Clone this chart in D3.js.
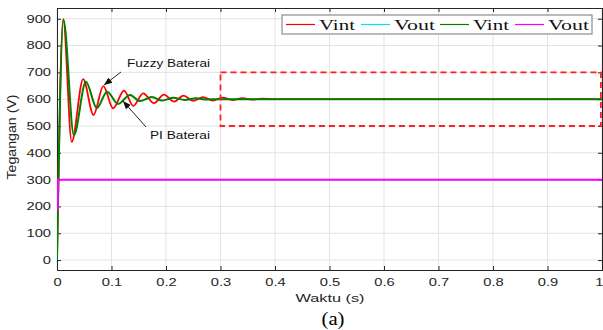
<!DOCTYPE html>
<html><head><meta charset="utf-8">
<script src="https://cdn.jsdelivr.net/npm/d3@7"></script>
<style>body{margin:0;background:#fff;}svg{display:block;}</style>
</head><body>
<script>
// ---- data ----
const xTicks = [0,0.1,0.2,0.3,0.4,0.5,0.6,0.7,0.8,0.9,1];
const xTickLabels = ["0","0.1","0.2","0.3","0.4","0.5","0.6","0.7","0.8","0.9","1"];
const yTicks = [0,100,200,300,400,500,600,700,800,900];
const legendLabels = ["Vint","Vout","Vint","Vout"];
const seriesColors = ["#ff0000","#00e5e5","#008000","#ff00ff"];

// Fuzzy Vint (red)
const fuzzyVintT = [0,0.0114,0.027,0.048,0.067,0.085,0.103,0.123,0.140,0.158,0.178,0.196,0.215,0.232,0.250,0.268,0.286,0.304,0.322,0.340,0.358,0.376,0.40,1.0];
const fuzzyVintV = [0,898,441,675,541,649,566,632,575,622,585,617,591,613,594,608,595,606,597,604,598,602,600,600];
// Fuzzy Vout (cyan)
const fuzzyVoutT = [0,0.001,0.002,0.004,1.0];
const fuzzyVoutV = [300,240,300,300,300];
// PI Vint (green)
const piVintT = [0,0.0118,0.031,0.053,0.073,0.092,0.112,0.134,0.152,0.174,0.193,0.214,0.234,0.255,0.275,0.30,1.0];
const piVintV = [0,896,466,665,567,628,582,616,593,608,595,605,597,603,599,600,600];
// PI Vout (magenta)
const piVoutT = [0,0.001,0.002,0.003,1.0];
const piVoutV = [300,187,300,300,300];

// zoom box (dashed) and annotations
const boxX = [0.3,0.998];
const boxY = [500,700];
const annotations = [
  {text:"Fuzzy Baterai", tx:127, ty:67, len:83, from:[121,72], to:[104,85]},
  {text:"PI Baterai", tx:150, ty:139, len:60, from:[146,127], to:[123,101]}
];

const W=603,H=330;
const svg=d3.select("body").append("svg").attr("width",W).attr("height",H);
const L=57,R=602,T=8,B=270;
const x=d3.scaleLinear().domain([0,1]).range([L,R]);
const y=d3.scaleLinear().domain([-37,940]).range([B,T]);
const axisCol="#262626";
const SX=1.4; // horizontal stretch of the reference's text

function stretch(sel,k){
  sel.each(function(){
    const w=this.getComputedTextLength();
    if(w>0) d3.select(this).attr("textLength",w*k).attr("lengthAdjust","spacingAndGlyphs");
  });
}

// grid
const g=svg.append("g");
g.selectAll(".gx").data(xTicks).enter().append("line")
 .attr("x1",d=>x(d)).attr("x2",d=>x(d)).attr("y1",T).attr("y2",B)
 .attr("stroke","#e3e3e3").attr("stroke-width",1);
g.selectAll(".gy").data(yTicks).enter().append("line")
 .attr("x1",L).attr("x2",R).attr("y1",d=>y(d)).attr("y2",d=>y(d))
 .attr("stroke","#e3e3e3").attr("stroke-width",1);

// axes
const fontAx="'Liberation Sans', Arial, sans-serif";
const xa=svg.append("g").attr("transform",`translate(0,${B})`)
 .call(d3.axisBottom(x).tickValues(xTicks).tickFormat((d,i)=>xTickLabels[i]).tickSize(-4).tickPadding(9));
const xt=svg.append("g").attr("transform",`translate(0,${T})`)
 .call(d3.axisTop(x).tickValues(xTicks).tickFormat("").tickSize(-4));
const ya=svg.append("g").attr("transform",`translate(${L},0)`)
 .call(d3.axisLeft(y).tickValues(yTicks).tickSize(-4).tickPadding(6));
const yr=svg.append("g").attr("transform",`translate(${R},0)`)
 .call(d3.axisRight(y).tickValues(yTicks).tickFormat("").tickSize(-4));
[xa,xt,ya,yr].forEach(a=>{
  a.select(".domain").attr("stroke",axisCol);
  a.selectAll(".tick line").attr("stroke",axisCol);
  a.selectAll("text").attr("fill",axisCol).attr("font-family",fontAx).attr("font-size",10.5);
});
stretch(xa.selectAll("text"),SX);
stretch(ya.selectAll("text"),SX);
// keep the last x label inside the window
xa.selectAll(".tick text").filter((d,i)=>i===xTicks.length-1).attr("text-anchor","end").attr("x",1);

// lines
svg.append("clipPath").attr("id","cp").append("rect").attr("x",L).attr("y",T).attr("width",R-L).attr("height",B-T);
const series=[
  {t:fuzzyVintT,v:fuzzyVintV,c:seriesColors[0],w:1.8,curve:d3.curveMonotoneX},
  {t:fuzzyVoutT,v:fuzzyVoutV,c:seriesColors[1],w:1.2,curve:d3.curveLinear},
  {t:piVintT,v:piVintV,c:seriesColors[2],w:2,curve:d3.curveMonotoneX},
  {t:piVoutT,v:piVoutV,c:seriesColors[3],w:2,curve:d3.curveLinear}
];
const lg=svg.append("g").attr("clip-path","url(#cp)");
series.forEach(s=>{
  const pts=s.t.map((t,i)=>[t,s.v[i]]);
  lg.append("path").datum(pts)
   .attr("d",d3.line().x(d=>x(d[0])).y(d=>y(d[1])).curve(s.curve))
   .attr("fill","none").attr("stroke",s.c).attr("stroke-width",s.w).attr("stroke-linejoin","round");
});

// dashed box
svg.append("rect").attr("x",x(boxX[0])).attr("y",y(boxY[1]))
 .attr("width",x(boxX[1])-x(boxX[0])).attr("height",y(boxY[0])-y(boxY[1]))
 .attr("fill","none").attr("stroke","#ff2020").attr("stroke-width",1.8).attr("stroke-dasharray","6,4");

// annotations
const defs=svg.append("defs");
defs.append("marker").attr("id","ah").attr("viewBox","0 0 10 10").attr("refX",10).attr("refY",5)
 .attr("markerWidth",9).attr("markerHeight",9).attr("orient","auto-start-reverse")
 .append("path").attr("d","M0,1 L10,5 L0,9 Z").attr("fill","#111");
annotations.forEach(a=>{
  svg.append("line").attr("x1",a.from[0]).attr("y1",a.from[1]).attr("x2",a.to[0]).attr("y2",a.to[1])
   .attr("stroke","#111").attr("stroke-width",0.9).attr("marker-end","url(#ah)");
  svg.append("text").attr("x",a.tx).attr("y",a.ty).text(a.text)
   .attr("font-family",fontAx).attr("font-size",11).attr("fill","#111")
   .attr("textLength",a.len).attr("lengthAdjust","spacingAndGlyphs");
});

// legend
const lgx=282,lgy=15,lgw=310,lgh=19;
const leg=svg.append("g");
leg.append("rect").attr("x",lgx).attr("y",lgy).attr("width",lgw).attr("height",lgh)
 .attr("fill","#fff").attr("stroke","#8c8c8c").attr("stroke-width",1.2);
const entryX=[286,361,440,515];
const entryLen=[36,41,36,41];
legendLabels.forEach((lab,i)=>{
  leg.append("line").attr("x1",entryX[i]).attr("x2",entryX[i]+29).attr("y1",lgy+lgh/2).attr("y2",lgy+lgh/2)
   .attr("stroke",seriesColors[i]).attr("stroke-width",1.2);
  leg.append("text").attr("x",entryX[i]+33).attr("y",lgy+lgh/2+5).text(lab)
   .attr("font-family","'Liberation Serif','Times New Roman',serif").attr("font-size",15).attr("fill","#111")
   .attr("textLength",entryLen[i]).attr("lengthAdjust","spacingAndGlyphs");
});

// axis labels
svg.append("text").attr("x",330).attr("y",302).attr("text-anchor","middle").text("Waktu (s)")
 .attr("font-family",fontAx).attr("font-size",11.5).attr("fill",axisCol)
 .attr("textLength",69).attr("lengthAdjust","spacingAndGlyphs");
svg.append("text").attr("transform",`translate(16,137) rotate(-90)`).attr("text-anchor","middle").text("Tegangan (V)")
 .attr("font-family",fontAx).attr("font-size",12).attr("fill",axisCol)
 .attr("textLength",85).attr("lengthAdjust","spacingAndGlyphs");
svg.append("text").attr("x",333).attr("y",325).attr("text-anchor","middle").text("(a)")
 .attr("font-family","'Liberation Serif','Times New Roman',serif").attr("font-size",18).attr("fill","#000")
 .attr("textLength",23).attr("lengthAdjust","spacingAndGlyphs");
</script>
</body></html>
